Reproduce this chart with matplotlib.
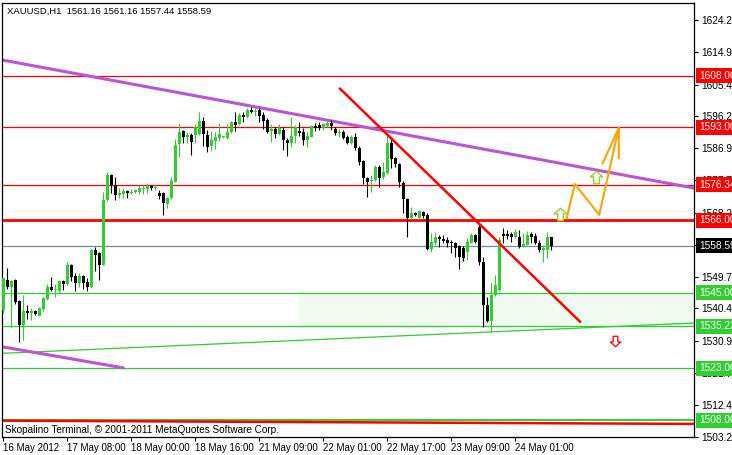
import matplotlib
matplotlib.use("Agg")
import matplotlib.pyplot as plt
from matplotlib.transforms import blended_transform_factory
from matplotlib.path import Path
import numpy as np

plt.rcParams['font.family'] = ['Liberation Sans', 'DejaVu Sans']

# XAUUSD H1 candles
opens = [1540.0, 1548.7, 1546.7, 1548.7, 1542.6, 1535.6, 1539.7, 1539.1, 1539.7, 1538.2,
         1540.3, 1543.2, 1546.7, 1545.8, 1545.5, 1548.4, 1547.5, 1553.1, 1549.9, 1547.8,
         1549.9, 1548.1, 1546.7, 1557.4, 1556.5, 1553.1, 1571.9, 1579.2, 1576.3, 1573.4,
         1573.7, 1574.5, 1574.0, 1574.3, 1574.3, 1575.1, 1575.1, 1576.0, 1575.4, 1574.0,
         1574.0, 1570.8, 1572.5, 1577.2, 1588.2, 1592.0, 1590.2, 1590.8, 1590.8, 1591.1,
         1594.9, 1590.8, 1587.6, 1589.1, 1589.9, 1590.2, 1589.9, 1591.7, 1594.6, 1594.0,
         1596.6, 1596.0, 1598.1, 1597.5, 1598.1, 1596.6, 1595.2, 1592.0, 1592.6, 1591.1,
         1592.3, 1589.4, 1588.5, 1590.5, 1592.0, 1591.7, 1589.4, 1590.2, 1593.4, 1593.7,
         1592.8, 1593.4, 1594.3, 1592.6, 1591.4, 1591.7, 1590.2, 1588.5, 1590.2, 1587.0,
         1583.3, 1578.3, 1577.5, 1577.7, 1581.5, 1578.6, 1579.8, 1588.5, 1584.1, 1582.4,
         1576.9, 1572.2, 1566.7, 1568.2, 1566.7, 1568.5, 1567.6, 1557.7, 1559.4, 1561.2,
         1560.6, 1560.3, 1559.7, 1559.4, 1558.6, 1558.0, 1556.8, 1559.4, 1561.8, 1564.1,
         1553.9, 1541.4, 1536.8, 1544.3, 1545.8, 1562.1, 1562.1, 1562.1, 1561.2, 1561.2,
         1558.6, 1558.9, 1562.1, 1561.5, 1559.4, 1557.4, 1557.4, 1561.16]
highs = [1549.3, 1552.2, 1548.7, 1549.0, 1542.9, 1544.3, 1541.4, 1540.6, 1540.0, 1540.9,
         1543.8, 1547.5, 1549.6, 1547.5, 1548.7, 1548.7, 1553.9, 1553.4, 1550.7, 1550.7,
         1550.2, 1549.3, 1557.7, 1558.3, 1556.8, 1574.3, 1580.1, 1579.5, 1578.6, 1575.4,
         1575.4, 1574.8, 1575.1, 1574.8, 1576.3, 1576.3, 1576.9, 1576.3, 1576.3, 1574.8,
         1574.3, 1572.8, 1578.6, 1589.6, 1594.3, 1592.3, 1591.7, 1591.4, 1594.0, 1597.5,
         1596.0, 1592.3, 1592.0, 1591.7, 1594.3, 1590.5, 1594.0, 1594.9, 1597.5, 1597.2,
         1597.5, 1598.7, 1598.9, 1598.7, 1598.7, 1597.5, 1595.7, 1594.0, 1593.1, 1594.0,
         1593.1, 1589.9, 1596.0, 1593.7, 1594.6, 1592.8, 1591.7, 1593.7, 1594.3, 1594.6,
         1594.3, 1594.9, 1595.2, 1593.1, 1592.6, 1592.3, 1590.8, 1590.8, 1591.4, 1587.6,
         1583.6, 1578.6, 1579.2, 1582.1, 1582.1, 1583.0, 1591.4, 1590.2, 1584.4, 1582.7,
         1577.5, 1572.5, 1569.9, 1568.5, 1569.0, 1568.7, 1568.2, 1562.4, 1562.6, 1561.8,
         1561.8, 1561.2, 1560.3, 1559.7, 1558.9, 1558.6, 1560.9, 1562.4, 1562.1, 1564.7,
         1555.4, 1543.8, 1547.8, 1550.2, 1561.2, 1563.8, 1563.2, 1562.6, 1563.5, 1563.2,
         1562.4, 1562.9, 1562.6, 1562.4, 1560.3, 1558.9, 1562.6, 1561.16]
lows = [1539.1, 1546.1, 1534.8, 1541.7, 1530.7, 1531.3, 1537.4, 1537.1, 1538.5, 1538.2,
        1539.7, 1542.9, 1545.5, 1543.8, 1545.2, 1545.8, 1547.2, 1548.4, 1545.5, 1546.7,
        1546.1, 1545.5, 1546.4, 1551.3, 1548.7, 1553.1, 1571.6, 1574.0, 1571.9, 1572.5,
        1572.5, 1572.5, 1573.7, 1574.0, 1573.7, 1573.7, 1574.0, 1574.8, 1574.8, 1572.2,
        1567.6, 1569.6, 1572.2, 1577.2, 1584.4, 1588.5, 1588.5, 1585.0, 1588.5, 1590.8,
        1587.6, 1585.9, 1586.2, 1586.7, 1589.1, 1589.9, 1589.6, 1591.4, 1592.0, 1593.7,
        1594.6, 1595.7, 1597.2, 1596.3, 1594.6, 1592.6, 1591.4, 1588.8, 1589.9, 1590.8,
        1586.5, 1584.7, 1587.3, 1588.5, 1590.5, 1587.9, 1587.3, 1590.2, 1592.0, 1592.3,
        1592.3, 1593.1, 1592.3, 1590.8, 1590.2, 1589.6, 1588.2, 1588.2, 1586.5, 1582.1,
        1576.6, 1572.8, 1574.3, 1577.5, 1575.7, 1578.0, 1579.5, 1581.2, 1581.5, 1575.7,
        1568.2, 1561.2, 1566.4, 1567.3, 1566.7, 1566.7, 1557.4, 1556.8, 1558.9, 1558.3,
        1559.4, 1558.3, 1556.5, 1555.4, 1551.9, 1554.2, 1554.5, 1559.4, 1559.4, 1553.1,
        1535.1, 1536.5, 1533.6, 1544.1, 1545.5, 1559.4, 1560.6, 1559.7, 1560.9, 1558.0,
        1558.3, 1558.9, 1559.4, 1559.1, 1556.8, 1553.9, 1555.1, 1557.44]
closes = [1549.3, 1546.7, 1548.4, 1542.3, 1535.6, 1539.7, 1539.1, 1539.7, 1538.8, 1540.6,
          1543.5, 1546.7, 1545.8, 1546.1, 1548.4, 1547.5, 1553.1, 1549.6, 1547.8, 1549.9,
          1547.8, 1546.7, 1557.4, 1556.0, 1553.1, 1571.9, 1579.2, 1576.3, 1573.4, 1574.0,
          1574.5, 1574.0, 1574.3, 1574.8, 1575.4, 1575.4, 1576.0, 1575.4, 1575.7, 1573.1,
          1571.1, 1572.5, 1577.5, 1587.9, 1591.7, 1590.2, 1590.8, 1588.8, 1593.1, 1594.9,
          1591.1, 1587.3, 1589.4, 1590.2, 1591.1, 1590.4, 1591.7, 1594.6, 1593.7, 1596.6,
          1596.0, 1598.1, 1597.5, 1597.8, 1596.3, 1594.9, 1591.7, 1592.6, 1591.1, 1592.8,
          1589.4, 1588.5, 1590.5, 1593.1, 1591.4, 1589.4, 1590.5, 1593.4, 1592.8, 1592.8,
          1594.0, 1594.3, 1593.4, 1591.4, 1591.7, 1589.9, 1588.5, 1590.2, 1587.0, 1583.0,
          1578.3, 1577.2, 1577.7, 1581.5, 1578.3, 1580.1, 1588.5, 1583.8, 1582.4, 1577.2,
          1572.2, 1566.7, 1568.2, 1567.6, 1568.7, 1567.3, 1557.7, 1559.7, 1561.2, 1560.6,
          1560.0, 1559.4, 1559.4, 1558.0, 1555.4, 1555.1, 1559.7, 1561.8, 1559.7, 1553.9,
          1541.4, 1536.8, 1544.3, 1547.2, 1560.3, 1561.5, 1561.5, 1561.2, 1562.6, 1558.3,
          1559.2, 1561.8, 1561.2, 1559.4, 1557.4, 1558.0, 1561.2, 1558.59]

date_ticks = [0, 16, 32, 48, 64, 80, 96, 112, 128]
date_labels = ["16 May 2012", "17 May 08:00", "18 May 00:00", "18 May 16:00", "21 May 09:00",
               "22 May 01:00", "22 May 17:00", "23 May 09:00", "24 May 01:00"]
price_ticks = [1624.20, 1614.95, 1605.45, 1596.20, 1586.95, 1577.70, 1568.20, 1558.95,
               1549.70, 1540.45, 1530.95, 1521.70, 1512.45, 1503.20]

# horizontal levels
red_levels = [1608.00, 1593.00, 1576.34]
red_main = 1566.00
green_levels = [1545.00, 1535.22, 1523.00]
green_main = 1508.00
bid = 1558.59
zone = (1535.22, 1545.00)

# trend lines (bar index, price)
purple_upper = ([-0.3, 172.7], [1612.6, 1575.4])
purple_lower = ([-0.3, 29.9], [1529.3, 1523.2])
green_trend = ([-0.3, 172.7], [1527.4, 1536.2])
red_trend = ([84.2, 144.2], [1604.25, 1536.6])
red_bottom = ([-0.3, 172.7], [1507.85, 1506.9])
orange_x = [140.85, 142.9, 149.0, 153.9]
orange_y = [1566.6, 1576.6, 1567.6, 1592.9]
orange_head_x = [149.85, 153.9, 153.9]
orange_head_y = [1582.6, 1592.9, 1584.1]
up_arrows = ([139.2, 148.1], [1567.8, 1578.6])
down_arrow = ([153.0], [1531.0])

# hollow block-arrow markers
up_marker = Path([(0, 1), (1, 0.1), (0.45, 0.1), (0.45, -1), (-0.45, -1),
                  (-0.45, 0.1), (-1, 0.1), (0, 1)], closed=True)
down_marker = Path([(0, -1), (1, -0.1), (0.45, -0.1), (0.45, 1), (-0.45, 1),
                    (-0.45, -0.1), (-1, -0.1), (0, -1)], closed=True)

fig = plt.figure(figsize=(7.32, 4.55), dpi=100)
ax = fig.add_axes([2 / 732, 18 / 455, 692 / 732, 434 / 455])
ax.set_xlim(-0.33, 172.7)
ax.set_ylim(1503.1, 1629.15)

# zone and lines
ax.fill_between([73.9, 172.7], zone[0], zone[1], color='#effbef', lw=0, zorder=0)
for lv in red_levels:
    ax.axhline(lv, color='red', lw=0.9, zorder=1)
ax.axhline(red_main, color='red', lw=2.0, zorder=1)
for lv in green_levels:
    ax.axhline(lv, color='#32cd32', lw=0.9, zorder=1)
ax.axhline(green_main, color='#32cd32', lw=1.4, zorder=1)
ax.axhline(bid, color='#778899', lw=0.9, zorder=1)

ax.plot(*red_bottom, color='red', lw=1.8, zorder=1)
ax.plot(*green_trend, color='#32cd32', lw=0.9, zorder=1)
ax.plot(*purple_upper, color='#ba55d3', lw=2.2, zorder=1)
ax.plot(*purple_lower, color='#ba55d3', lw=2.2, zorder=1)

# candles
x = np.arange(len(opens))
o = np.array(opens)
c = np.array(closes)
up = c >= o
cols = np.where(up, '#32cd32', 'black')
ax.vlines(x, lows, highs, colors=cols, lw=0.8, zorder=2)
bottoms = np.minimum(o, c)
heights = np.maximum(np.abs(c - o), 0.3)
ax.bar(x, heights, bottom=bottoms, width=0.72, color=cols, lw=0, zorder=3)

ax.plot(*red_trend, color='red', lw=1.8, zorder=4)
ax.plot(orange_x, orange_y, color='#ffa500', lw=1.5, zorder=4)
ax.plot(orange_head_x, orange_head_y, color='#ffa500', lw=1.5, zorder=4)
ax.plot(*up_arrows, ls='none', marker=up_marker, ms=9, mfc='#fffff0', mec='#9acd32',
        mew=1.0, zorder=5)
ax.plot(*down_arrow, ls='none', marker=down_marker, ms=7.5, mfc='white', mec='red',
        mew=0.9, zorder=5)

# axes styling
for sp in ax.spines.values():
    sp.set_color('black')
    sp.set_linewidth(0.9)
ax.yaxis.tick_right()
ax.set_yticks(price_ticks)
ax.set_yticklabels([f"{p:.2f}" for p in price_ticks])
ax.tick_params(axis='y', direction='out', length=3, width=0.8, pad=2, labelsize=7.3)
ax.set_xticks(date_ticks)
ax.set_xticklabels(date_labels, ha='left')
ax.tick_params(axis='x', direction='out', length=3, width=0.8, pad=1.5, labelsize=7)

# right-side price labels
tr = blended_transform_factory(ax.transAxes, ax.transData)
tags = [(lv, 'red') for lv in red_levels + [red_main]] + [(bid, 'black')] + \
       [(lv, '#32cd32') for lv in green_levels + [green_main]]
for lv, col in tags:
    ax.text(1.0 + 5 / 692, lv, f"{lv:.2f}", transform=tr, color='white', fontsize=7.3,
            ha='left', va='center', clip_on=False, zorder=6,
            bbox=dict(boxstyle='square,pad=0.25', fc=col, ec='none'))

ax.text(5 / 692, 1 - 8 / 434, "XAUUSD,H1  1561.16 1561.16 1557.44 1558.59",
        transform=ax.transAxes, fontsize=6.8, ha='left', va='center')
ax.text(3 / 692, 7 / 434, "Skopalino Terminal, \u00a9 2001-2011 MetaQuotes Software Corp.",
        transform=ax.transAxes, fontsize=7.2, ha='left', va='center')

fig.savefig("out.png", dpi=100)
